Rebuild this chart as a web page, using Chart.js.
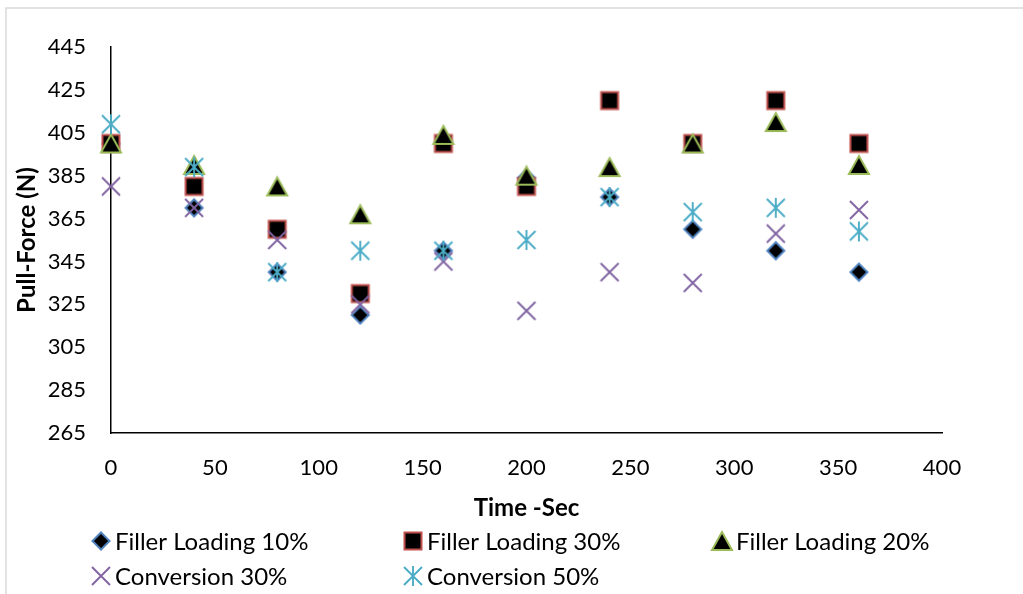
<!DOCTYPE html>
<html>
<head>
<meta charset="utf-8">
<script src="https://cdn.jsdelivr.net/npm/chart.js@4.4.1/dist/chart.umd.min.js"></script>
<style>
  html, body { margin: 0; padding: 0; background: #fff; }
  #wrap { position: relative; width: 1023px; height: 594px; }
</style>
</head>
<body>
<div id="wrap"><canvas id="c"></canvas></div>
<script>
// Sampling times (s)
const times = [0, 40, 80, 120, 160, 200, 240, 280, 320, 360];

// Pull-force readings (N)
const filler10 = [400, 370, 340, 320, 350, 384, 375, 360, 350, 340];
const filler30 = [400, 380, 360, 330, 400, 380, 420, 400, 420, 400];
const filler20 = [400, 390, 380, 367, 404, 385, 389, 400, 410, 390];
const conv30   = [380, 370, 355, 325, 345, 322, 340, 335, 358, 369];
const conv50   = [409, 389, 340, 350, 350, 355, 375, 368, 370, 359];

const seriesNames = ['Filler Loading 10%', 'Filler Loading 30%', 'Filler Loading 20%', 'Conversion 30%', 'Conversion 50%'];

const xTicks = { min: 0, max: 400, step: 50 };
const yTicks = { min: 265, max: 445, step: 20 };

const FONT = 'Lato, "Open Sans", sans-serif';

// Office-style marker glyphs drawn onto small canvases
function makeMarker(kind) {
  const s = 26;
  const cv = document.createElement('canvas');
  cv.width = s; cv.height = s;
  const g = cv.getContext('2d');
  const c = s / 2;
  g.lineJoin = 'miter';
  if (kind === 'diamond') {
    const r = 8.5;
    g.beginPath();
    g.moveTo(c, c - r); g.lineTo(c + r, c); g.lineTo(c, c + r); g.lineTo(c - r, c); g.closePath();
    g.fillStyle = '#000'; g.fill();
    g.strokeStyle = '#4F81BD'; g.lineWidth = 2; g.stroke();
  } else if (kind === 'square') {
    const h = 8.5;
    g.fillStyle = '#000';
    g.fillRect(c - h, c - h, 2 * h, 2 * h);
    g.strokeStyle = '#C0504D'; g.lineWidth = 2;
    g.strokeRect(c - h, c - h, 2 * h, 2 * h);
  } else if (kind === 'triangle') {
    const hw = 10, hh = 9;
    g.beginPath();
    g.moveTo(c, c - hh); g.lineTo(c + hw, c + hh); g.lineTo(c - hw, c + hh); g.closePath();
    g.fillStyle = '#000'; g.fill();
    g.strokeStyle = '#9BBB59'; g.lineWidth = 2; g.stroke();
  } else if (kind === 'x') {
    const r = 9;
    g.strokeStyle = '#8064A2'; g.lineWidth = 1.9;
    g.beginPath();
    g.moveTo(c - r, c - r); g.lineTo(c + r, c + r);
    g.moveTo(c + r, c - r); g.lineTo(c - r, c + r);
    g.stroke();
  } else if (kind === 'star') {
    const r = 9;
    g.strokeStyle = '#4BACC6'; g.lineWidth = 1.9;
    g.beginPath();
    g.moveTo(c - r, c - r); g.lineTo(c + r, c + r);
    g.moveTo(c + r, c - r); g.lineTo(c - r, c + r);
    g.moveTo(c, c - r - 1); g.lineTo(c, c + r + 1);
    g.stroke();
  }
  return cv;
}

const markers = {
  diamond: makeMarker('diamond'),
  square: makeMarker('square'),
  triangle: makeMarker('triangle'),
  x: makeMarker('x'),
  star: makeMarker('star')
};

function pts(vals) { return times.map((t, i) => ({ x: t, y: vals[i] })); }

const datasets = [
  { label: seriesNames[0], data: pts(filler10), pointStyle: markers.diamond, order: 5 },
  { label: seriesNames[1], data: pts(filler30), pointStyle: markers.square, order: 4 },
  { label: seriesNames[2], data: pts(filler20), pointStyle: markers.triangle, order: 3 },
  { label: seriesNames[3], data: pts(conv30), pointStyle: markers.x, order: 2 },
  { label: seriesNames[4], data: pts(conv50), pointStyle: markers.star, order: 1 }
].map(d => Object.assign(d, { showLine: false, clip: false, pointRadius: 10, pointHoverRadius: 10 }));

// Legend positions: columns and rows of the two-row legend
const legendCols = [101, 413, 722];
const legendRows = [541, 576];

const frame = {
  id: 'frame',
  beforeDraw(chart) {
    const ctx = chart.ctx;
    ctx.save();
    ctx.fillStyle = '#fff';
    ctx.fillRect(0, 0, chart.width, chart.height);
    ctx.strokeStyle = '#D9D9D9';
    ctx.lineWidth = 1.5;
    ctx.beginPath();
    ctx.moveTo(6, chart.height + 2); ctx.lineTo(6, 8); ctx.lineTo(chart.width + 2, 8);
    ctx.stroke();
    ctx.restore();
  },
  afterDraw(chart) {
    const ctx = chart.ctx;
    const area = chart.chartArea;
    ctx.save();
    ctx.fillStyle = '#000';
    // axis titles
    ctx.font = 'bold 24px ' + FONT;
    ctx.textAlign = 'center';
    ctx.textBaseline = 'middle';
    ctx.fillText('Time -Sec', (area.left + area.right) / 2, 508);
    ctx.translate(27, (area.top + area.bottom) / 2);
    ctx.rotate(-Math.PI / 2);
    ctx.fillText('Pull-Force (N)', 0, 0);
    ctx.setTransform(1, 0, 0, 1, 0, 0);
    // legend
    ctx.font = '24px ' + FONT;
    ctx.textAlign = 'left';
    chart.data.datasets.forEach((ds, i) => {
      const col = i < 3 ? i : i - 3;
      const row = i < 3 ? 0 : 1;
      const mx = legendCols[col], my = legendRows[row];
      const img = ds.pointStyle;
      ctx.drawImage(img, mx - img.width / 2, my - img.height / 2);
      ctx.fillText(ds.label, mx + 14, my + 1);
    });
    ctx.restore();
  }
};

new Chart(document.getElementById('c'), {
  type: 'scatter',
  data: { datasets },
  plugins: [frame],
  options: {
    responsive: true,
    maintainAspectRatio: false,
    animation: false,
    layout: { padding: { top: 47, right: 81, left: 0, bottom: 0 } },
    plugins: { legend: { display: false }, tooltip: { enabled: false } },
    scales: {
      x: {
        type: 'linear',
        min: xTicks.min, max: xTicks.max,
        afterFit(s) { s.height = 161; },
        grid: { display: false, drawTicks: false },
        border: { display: true, color: '#000', width: 1.5 },
        ticks: { stepSize: xTicks.step, padding: 22, color: '#000', font: { family: FONT, size: 22 } }
      },
      y: {
        type: 'linear',
        min: yTicks.min, max: yTicks.max,
        afterFit(s) { s.width = 111; },
        grid: { display: false, drawTicks: false },
        border: { display: true, color: '#000', width: 1.5 },
        ticks: { stepSize: yTicks.step, padding: 25, color: '#000', font: { family: FONT, size: 22 } }
      }
    }
  }
});
</script>
</body>
</html>
